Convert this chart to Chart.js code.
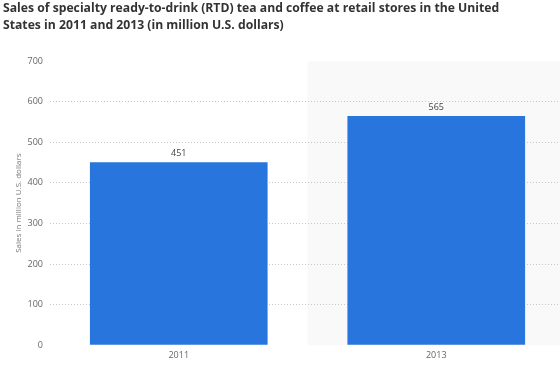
<!DOCTYPE html>
<html>
<head>
<meta charset="utf-8">
<script src="https://cdn.jsdelivr.net/npm/chart.js@4"></script>
<style>
  html, body { margin: 0; padding: 0; background: #fff; overflow: hidden; }
  #wrap { width: 565px; height: 366px; }
</style>
</head>
<body>
<div id="wrap"><canvas id="myChart"></canvas></div>
<script>
const years = ['2011', '2013'];
const sales = [451, 565];
const yMin = 0;
const yMax = 700;
const yStep = 100;
const titleLines = [
  'Sales of specialty ready-to-drink (RTD) tea and coffee at retail stores in the United',
  'States in 2011 and 2013 (in million U.S. dollars)',
];
const yTitle = 'Sales in million U.S. dollars';

// grey band behind the last category
const bandPlugin = {
  id: 'band',
  beforeDraw(chart) {
    const { ctx, chartArea, scales } = chart;
    const x = scales.x;
    const half = (chartArea.right - chartArea.left) / years.length / 2;
    const start = x.getPixelForValue(years.length - 1) - half;
    ctx.save();
    ctx.fillStyle = '#f9f9f9';
    ctx.fillRect(start, chartArea.top, chartArea.right - start, chartArea.bottom - chartArea.top);
    ctx.restore();
  },
};

// value labels above the bars
const valuePlugin = {
  id: 'values',
  afterDatasetsDraw(chart) {
    const { ctx } = chart;
    const meta = chart.getDatasetMeta(0);
    ctx.save();
    ctx.font = '9px "Open Sans", sans-serif';
    ctx.fillStyle = '#444';
    ctx.textAlign = 'center';
    ctx.textBaseline = 'bottom';
    meta.data.forEach((bar, i) => {
      ctx.fillText(String(sales[i]), bar.x, bar.y - 4);
    });
    ctx.restore();
  },
};

const main = () => {
  const ctx = document.getElementById('myChart').getContext('2d');

  const config = {
    type: 'bar',
    data: {
      labels: years,
      datasets: [
        {
          label: 'Sales',
          data: sales,
          backgroundColor: '#2876dd',
          categoryPercentage: 1,
          barPercentage: 0.69,
        },
      ],
    },
    options: {
      responsive: true,
      maintainAspectRatio: false,
      animation: false,
      layout: {
        padding: { left: 3, right: 0, top: 0, bottom: 0 },
      },
      plugins: {
        legend: { display: false },
        tooltip: { enabled: false },
        title: {
          display: true,
          text: titleLines,
          align: 'start',
          color: '#333',
          font: { family: '"Open Sans", sans-serif', size: 12.2, weight: 'bold', lineHeight: 1.4 },
          padding: { top: 0, bottom: 27 },
        },
      },
      scales: {
        x: {
          grid: { display: false, drawTicks: false },
          border: { display: false },
          ticks: {
            color: '#666',
            font: { family: '"Open Sans", sans-serif', size: 9 },
            padding: 5,
          },
        },
        y: {
          min: yMin,
          max: yMax,
          afterFit(scale) { scale.width = 47; },
          border: { display: false, dash: [1, 2] },
          grid: {
            drawTicks: false,
            color: (c) => (c.tick && (c.tick.value === yMin || c.tick.value === yMax) ? 'rgba(0,0,0,0)' : '#c8c8c8'),
          },
          ticks: {
            stepSize: yStep,
            color: '#666',
            font: { family: '"Open Sans", sans-serif', size: 9 },
            padding: 7,
          },
          title: {
            display: true,
            text: yTitle,
            color: '#777',
            font: { family: '"Open Sans", sans-serif', size: 8 },
            padding: { top: 11, bottom: 0 },
          },
        },
      },
    },
    plugins: [bandPlugin, valuePlugin],
  };

  const myChart = new Chart(ctx, config);
};

main();
</script>
</body>
</html>
